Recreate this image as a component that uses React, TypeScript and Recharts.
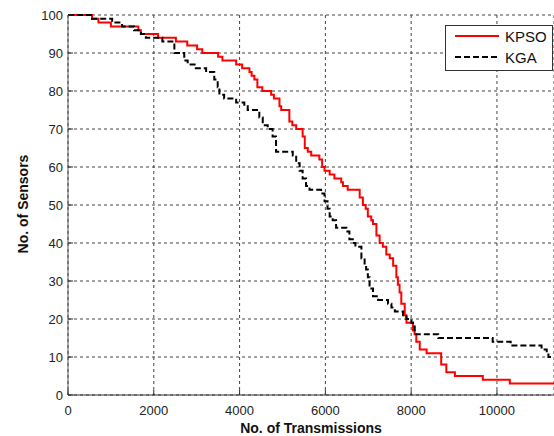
import React from "react";
import { LineChart, Line, XAxis, YAxis, CartesianGrid, Legend } from "recharts";

// KPSO: transmissions at which the sensor count drops, and the count from there on
const kpsoX = [0, 560, 710, 1000, 1640, 1700, 2100, 2515, 2780, 3010, 3130, 3500, 3600, 3920, 4060, 4230, 4280, 4345, 4415, 4530, 4735, 4800, 4930, 4970, 5160, 5230, 5320, 5470, 5520, 5590, 5670, 5860, 5925, 5980, 6100, 6210, 6370, 6410, 6520, 6800, 6875, 6940, 6990, 7070, 7110, 7190, 7265, 7340, 7420, 7500, 7580, 7655, 7690, 7730, 7770, 7850, 7890, 8040, 8080, 8120, 8200, 8360, 8700, 8820, 9020, 9670, 10300, 11330];
const kpsoY = [100, 99, 98, 97, 96, 95, 94, 93, 92, 91, 90, 89, 88, 87, 86, 85, 84, 83, 81, 80, 79, 78, 76, 75, 72, 71, 70, 68, 65, 64, 63, 62, 60, 59, 58, 57, 56, 55, 54, 52, 50, 49, 47, 46, 45, 42, 40, 39, 37, 36, 34, 31, 29, 27, 24, 21, 19, 17, 16, 14, 12, 11, 8, 6, 5, 4, 3, 3];

// KGA
const kgaX = [0, 560, 1030, 1260, 1540, 1700, 1815, 2200, 2480, 2710, 2790, 2980, 3220, 3410, 3490, 3530, 3640, 3920, 4110, 4190, 4460, 4540, 4656, 4770, 4850, 5240, 5320, 5400, 5470, 5550, 5630, 5900, 5980, 6050, 6100, 6170, 6250, 6490, 6560, 6640, 6700, 6840, 6915, 6950, 6990, 7030, 7110, 7230, 7460, 7540, 7620, 7810, 7890, 8006, 8043, 8083, 8630, 9900, 10320, 11040, 11160, 11200, 11330];
const kgaY = [100, 99, 98, 97, 96, 95, 94, 93, 90, 88, 87, 86, 85, 83, 81, 79, 78, 77, 76, 75, 73, 71, 70, 68, 64, 63, 61, 59, 57, 55, 54, 53, 51, 49, 47, 46, 44, 43, 41, 40, 39, 36, 34, 33, 31, 28, 26, 25, 24, 23, 22, 21, 20, 19, 18, 16, 15, 14, 13, 12, 11, 10, 10];

const xTicks = [0, 2000, 4000, 6000, 8000, 10000];
const yTicks = [0, 10, 20, 30, 40, 50, 60, 70, 80, 90, 100];

const kpso = kpsoX.map((x, i) => ({ x, y: kpsoY[i] }));
const kga = kgaX.map((x, i) => ({ x, y: kgaY[i] }));

const FONT = "'Liberation Sans', Arial, sans-serif";

const series = [
  { name: "KPSO", color: "#ff0000", dash: undefined },
  { name: "KGA", color: "#000000", dash: "6 3" },
];

// ticks point into the plot, like the MATLAB default
const XTick = (props: any) => {
  const { x, y, payload } = props;
  return (
    <g>
      <line x1={x} y1={y} x2={x} y2={y - 5} stroke="#333" />
      <text x={x} y={y + 20} textAnchor="middle" fontSize={13} fontFamily={FONT} fill="#222">
        {payload.value}
      </text>
    </g>
  );
};

const YTick = (props: any) => {
  const { x, y, payload } = props;
  return (
    <g>
      <line x1={x} y1={y} x2={x + 5} y2={y} stroke="#333" />
      <text x={x - 5} y={y + 4.5} textAnchor="end" fontSize={13} fontFamily={FONT} fill="#222">
        {payload.value}
      </text>
    </g>
  );
};

const YLabel = (props: any) => {
  const { viewBox } = props;
  const cx = viewBox.x + 28;
  const cy = viewBox.y + viewBox.height / 2 - 1;
  return (
    <text
      x={cx}
      y={cy}
      transform={`rotate(-90 ${cx} ${cy})`}
      textAnchor="middle"
      fontSize={14}
      fontWeight="bold"
      fontFamily={FONT}
      fill="#111"
    >
      No. of Sensors
    </text>
  );
};

const LegendBox = () => (
  <svg width={108} height={46} style={{ display: "block" }}>
    <rect x={0.5} y={0.5} width={107} height={45} fill="#fff" stroke="#333" />
    {series.map((s, i) => (
      <g key={s.name}>
        <line x1={10} x2={54} y1={11 + i * 21} y2={11 + i * 21} stroke={s.color} strokeWidth={2} strokeDasharray={s.dash} />
        <text x={60} y={11 + i * 21} dominantBaseline="central" fontSize={15} fontFamily={FONT} fill="#111">
          {s.name}
        </text>
      </g>
    ))}
  </svg>
);

export default function App() {
  return (
    <div style={{ position: "absolute", left: 0, top: 0, width: 554, height: 436, background: "#fff" }}>
      <LineChart width={554} height={436} margin={{ top: 15, right: 0, bottom: 0, left: 0 }}>
        <CartesianGrid stroke="#444" strokeDasharray="3 3" />
        <XAxis
          dataKey="x"
          type="number"
          domain={[0, 11330]}
          ticks={xTicks}
          allowDataOverflow
          height={41}
          tickSize={0}
          tickMargin={0}
          tick={<XTick />}
          stroke="#333"
          label={{
            value: "No. of Transmissions",
            position: "insideBottom",
            offset: 3,
            style: { fontSize: 14, fontWeight: "bold", fontFamily: FONT, fill: "#111" },
          }}
        />
        <YAxis
          type="number"
          domain={[0, 100]}
          ticks={yTicks}
          width={68}
          tickSize={0}
          tickMargin={0}
          tick={<YTick />}
          stroke="#555"
          label={<YLabel />}
        />
        <Legend
          layout="vertical"
          align="center"
          verticalAlign="middle"
          wrapperStyle={{ left: 445, top: 25, width: 108, height: 46 }}
          content={() => <LegendBox />}
        />
        <Line
          data={kpso}
          dataKey="y"
          name="KPSO"
          type="stepAfter"
          stroke="#ff0000"
          strokeWidth={2}
          dot={false}
          isAnimationActive={false}
        />
        <Line
          data={kga}
          dataKey="y"
          name="KGA"
          type="stepAfter"
          stroke="#000000"
          strokeWidth={2}
          strokeDasharray="6 3"
          dot={false}
          isAnimationActive={false}
        />
      </LineChart>
    </div>
  );
}
